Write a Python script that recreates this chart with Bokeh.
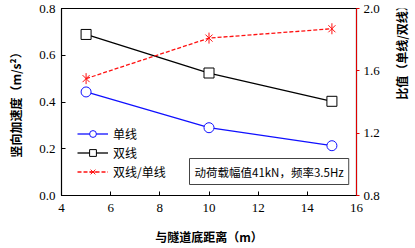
import math
from bokeh.plotting import figure
from bokeh.layouts import row
from bokeh.models import Range1d, LinearAxis, FixedTicker, Legend, LegendItem, Label, CustomJSTickFormatter
from bokeh.embed import file_html
from bokeh.resources import INLINE

distance = [5, 10, 15]
single = [0.443, 0.290, 0.213]
double = [0.689, 0.524, 0.403]
ratio = [1.55, 1.81, 1.87]

SERIF = "Liberation Serif"
CJK = "Noto Sans CJK SC"

p = figure(width=390, height=248, output_backend="svg", toolbar_location=None,
           x_range=Range1d(4, 16), y_range=Range1d(0, 0.8),
           min_border_left=61, min_border_right=34, min_border_top=8, min_border_bottom=53)
p.extra_y_ranges = {"ratio": Range1d(0.8, 2.0)}
p.xgrid.visible = False
p.ygrid.visible = False
p.outline_line_color = "black"
p.outline_line_alpha = 1
p.outline_line_width = 1.2
p.background_fill_color = "white"
p.border_fill_color = "white"

for ax in (p.xaxis[0], p.yaxis[0]):
    ax.major_tick_in = 4
    ax.major_tick_out = 0
    ax.minor_tick_line_color = None
    ax.axis_line_color = "black"
    ax.major_label_text_font = SERIF
    ax.major_label_text_font_size = "13px"
    ax.major_label_text_color = "black"
    ax.axis_label_text_font = CJK
    ax.axis_label_text_font_style = "bold"
    ax.axis_label_text_font_size = "12px"
    ax.axis_label_text_color = "black"

p.xaxis.ticker = FixedTicker(ticks=[4, 6, 8, 10, 12, 14, 16])
p.yaxis.ticker = FixedTicker(ticks=[0, 0.2, 0.4, 0.6, 0.8])
p.yaxis.formatter = CustomJSTickFormatter(code="return tick.toFixed(1);")
p.xaxis.axis_label = "与隧道底距离（m）"
p.yaxis.axis_label = "竖向加速度（m/s²）"
p.xaxis.major_label_standoff = 8
p.xaxis.axis_label_standoff = 13
p.yaxis.major_label_standoff = 6
p.yaxis.axis_label_standoff = 12

rax = LinearAxis(y_range_name="ratio", ticker=FixedTicker(ticks=[0.8, 1.2, 1.6, 2.0]),
                 formatter=CustomJSTickFormatter(code="return tick.toFixed(1);"))
rax.axis_line_color = "#e00000"
rax.major_tick_line_color = "#e00000"
rax.major_tick_in = 0
rax.major_tick_out = 3
rax.minor_tick_line_color = None
rax.major_label_text_font = SERIF
rax.major_label_text_font_size = "13px"
rax.major_label_text_color = "black"
rax.major_label_standoff = 4
p.add_layout(rax, "right")

l1 = p.line(distance, single, line_color="#1010ff", line_width=1.3)
m1 = p.scatter(distance, single, marker="circle", size=10, line_color="#1010ff", fill_color="white", line_width=1)
l2 = p.line(distance, double, line_color="black", line_width=1.3)
m2 = p.scatter(distance, double, marker="square", size=10, line_color="black", fill_color="white", line_width=1)
l3 = p.line(distance, ratio, y_range_name="ratio", line_color="#ff1010", line_width=1.3, line_dash="4 2")
m3a = p.scatter(distance, ratio, y_range_name="ratio", marker="x", size=10, line_color="#ff1010", line_width=1)
m3b = p.scatter(distance, ratio, y_range_name="ratio", marker="dash", angle=math.pi / 2, size=11, line_color="#ff1010", line_width=1)

legend = Legend(items=[
    LegendItem(label="单线", renderers=[l1, m1]),
    LegendItem(label="双线", renderers=[l2, m2]),
    LegendItem(label="双线/单线", renderers=[l3, m3a, m3b]),
], location=(16, 15))
legend.border_line_color = None
legend.background_fill_alpha = 0
legend.label_text_font = CJK
legend.label_text_font_size = "12px"
legend.label_text_color = "black"
legend.glyph_width = 31
legend.glyph_height = 17
legend.spacing = 2
legend.padding = 4
legend.margin = 0
legend.label_standoff = 5
p.add_layout(legend, "center")

note = Label(x=128, y=11, x_units="screen", y_units="screen",
             text="动荷载幅值41kN，频率3.5Hz", text_font=CJK, text_font_size="11.5px",
             text_color="black", border_line_color="#444444", border_line_width=1,
             background_fill_color="white", padding=5)
p.add_layout(note)

# narrow side panel holding the right-axis title, reading bottom-to-top
p2 = figure(width=25, height=248, output_backend="svg", toolbar_location=None,
            x_axis_type=None, y_axis_type=None, x_range=Range1d(0, 1), y_range=Range1d(0, 1),
            min_border_left=0, min_border_right=0, min_border_top=0, min_border_bottom=0)
p2.outline_line_color = None
p2.xgrid.visible = False
p2.ygrid.visible = False
p2.background_fill_color = "white"
p2.border_fill_color = "white"
rtitle = Label(x=11, y=146, x_units="screen", y_units="screen", angle=math.pi / 2,
               text="比值（单线/双线）", text_font=CJK, text_font_style="bold", text_font_size="12px",
               text_color="black", text_align="center", text_baseline="middle")
p2.add_layout(rtitle)

layout = row(p, p2, spacing=0)
open("out.html", "w").write(file_html(layout, INLINE))
